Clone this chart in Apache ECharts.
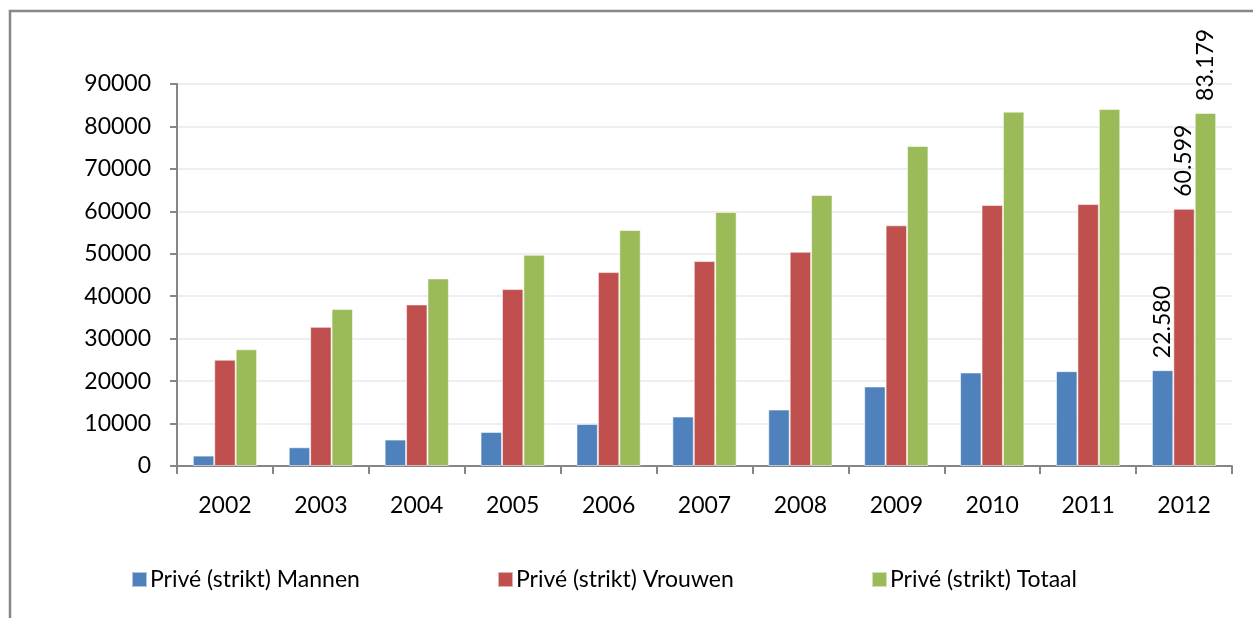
<!DOCTYPE html>
<html>
<head>
<meta charset="utf-8">
<script src="https://cdn.jsdelivr.net/npm/echarts@6/dist/echarts.min.js"></script>
<style>
html,body{margin:0;padding:0;background:#fff;}
#chart{width:1253px;height:618px;}
</style>
</head>
<body>
<div id="chart"></div>
<script>
var categories = ['2002','2003','2004','2005','2006','2007','2008','2009','2010','2011','2012'];
var seriesNames = ['Privé (strikt) Mannen','Privé (strikt) Vrouwen','Privé (strikt) Totaal'];
var mannen  = [2450, 4410, 6230, 8020, 9900, 11650, 13300, 18730, 22030, 22340, 22580];
var vrouwen = [25050, 32780, 38070, 41680, 45680, 48280, 50470, 56700, 61490, 61720, 60599];
var totaal  = [27500, 37000, 44200, 49760, 55590, 59830, 63840, 75400, 83490, 84130, 83179];
var yTicks = [0, 10000, 20000, 30000, 40000, 50000, 60000, 70000, 80000, 90000];
var labelIndex = 10;

var colors = ['#4F81BD','#C0504D','#9BBB59'];
var font = 'Lato, "Open Sans", sans-serif';

function dutch(v){ return String(v).replace(/\B(?=(\d{3})+(?!\d))/g,'.'); }

function buildData(arr){
  return arr.map(function(v,i){
    if(i===labelIndex){
      return {value:v, label:{show:true, position:'top', rotate:90, align:'left', verticalAlign:'middle', distance:12,
        formatter:function(p){return dutch(p.value);}, color:'#000', fontSize:23, fontFamily:font}};
    }
    return v;
  });
}

var chart = echarts.init(document.getElementById('chart'), null, {renderer:'canvas'});
var data = [mannen, vrouwen, totaal];
var series = seriesNames.map(function(n,i){
  return {
    name:n, type:'bar', data:buildData(data[i]),
    barGap:'0%', barCategoryGap:'33%',
    itemStyle:{color:colors[i], borderColor:'rgba(255,255,255,0.55)', borderWidth:1},
    emphasis:{disabled:true}
  };
});

var legendLefts = [131, 497, 871];
chart.setOption({
  animation:false,
  backgroundColor:'#fff',
  textStyle:{fontFamily:font},
  graphic:[{type:'rect', shape:{x:10, y:11, width:1400, height:800}, style:{fill:'none', stroke:'#878787', lineWidth:2.5}, z:-1}],
  legend: seriesNames.map(function(n,i){
    return {data:[n], left:legendLefts[i], top:568, padding:0, icon:'rect', itemWidth:15, itemHeight:15, itemGap:6,
      textStyle:{fontSize:23, color:'#000', fontFamily:font, padding:[0,0,0,-2]}, selectedMode:false};
  }),
  grid:{left:177, right:21, top:84, bottom:152, containLabel:false},
  xAxis:{
    type:'category', data:categories,
    axisLine:{lineStyle:{color:'#868686', width:2}},
    axisTick:{show:true, length:8, lineStyle:{color:'#868686', width:2}},
    axisLabel:{fontSize:23, color:'#000', margin:28, fontFamily:font}
  },
  yAxis:{
    type:'value', min:0, max:90000, interval:10000,
    axisLine:{show:true, lineStyle:{color:'#868686', width:2}},
    axisTick:{show:true, length:7, lineStyle:{color:'#868686', width:2}},
    splitLine:{lineStyle:{color:'#EEEEEE', width:2}},
    axisLabel:{fontSize:23, color:'#000', margin:26, fontFamily:font,
      formatter:function(v){ return yTicks.indexOf(v)>=0 ? String(v) : ''; }}
  },
  series:series
});
</script>
</body>
</html>
